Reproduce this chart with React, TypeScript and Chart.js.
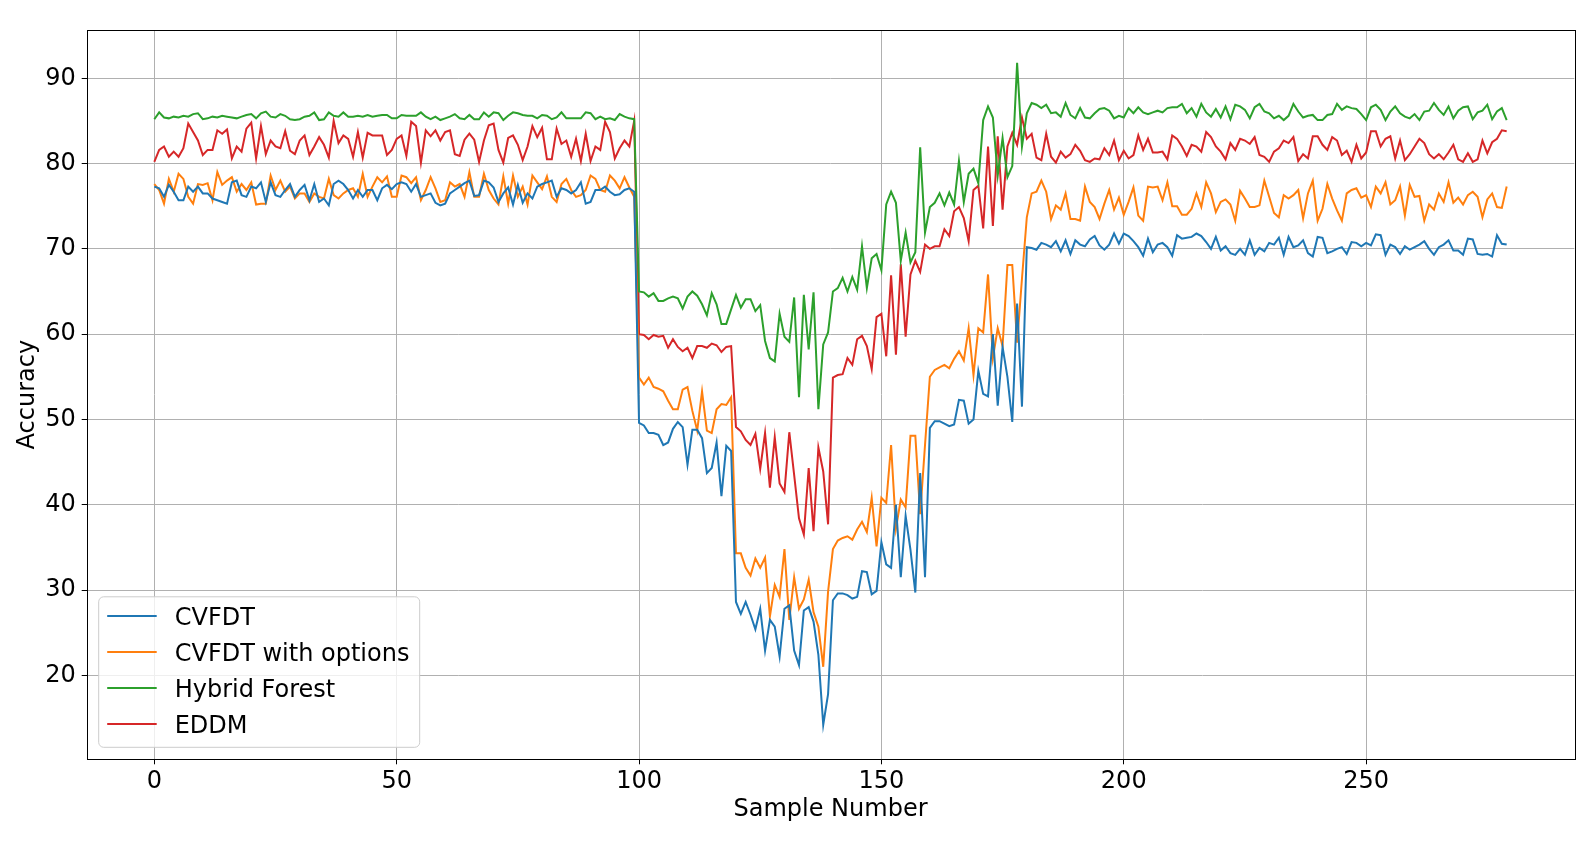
import { useRef, useEffect } from 'react';
import { Chart, registerables } from 'chart.js';

Chart.register(...registerables);

// Accuracy per sample for four stream classifiers.
const cvfdt = [
  77.3, 77.1, 76.1, 77.5, 76.7, 75.7, 75.7, 77.3, 76.7, 77.3,
  76.5, 76.5, 75.9, 75.7, 75.5, 75.3, 77.8, 78.0, 76.3, 76.1,
  77.3, 77.1, 77.8, 75.5, 77.8, 76.3, 76.1, 76.9, 77.6, 76.1,
  76.9, 77.5, 75.7, 77.6, 75.5, 75.9, 75.1, 77.6, 78.0, 77.6,
  76.9, 75.9, 76.9, 76.1, 76.9, 76.9, 75.7, 77.1, 77.5, 77.0,
  77.6, 77.8, 77.6, 76.7, 77.6, 76.1, 76.3, 76.5, 75.4, 75.1,
  75.3, 76.5, 76.9, 77.3, 77.7, 78.0, 76.2, 76.3, 78.0, 77.8,
  77.2, 75.5, 76.5, 77.2, 75.2, 77.5, 75.4, 76.5, 75.9, 77.3,
  77.6, 77.8, 78.0, 76.1, 77.1, 76.9, 76.5, 76.9, 77.8, 75.3,
  75.5, 76.9, 76.9, 77.3, 76.7, 76.3, 76.4, 76.9, 77.1, 76.7,
  49.6, 49.3, 48.4, 48.4, 48.2, 47.0, 47.3, 48.9, 49.7, 49.1,
  44.7, 48.8, 48.8, 47.8, 43.7, 44.3, 47.3, 41.0, 46.9, 46.3,
  28.6, 27.2, 28.6, 27.1, 25.4, 27.8, 22.9, 26.5, 25.7, 22.2,
  27.8, 28.2, 22.9, 21.2, 27.6, 28.0, 26.3, 22.4, 14.2, 17.8,
  28.8, 29.6, 29.6, 29.4, 29.0, 29.2, 32.2, 32.1, 29.5, 29.9,
  35.6, 33.0, 32.6, 40.0, 31.5, 38.7, 34.7, 29.7, 43.7, 31.5,
  49.0, 49.8, 49.8, 49.5, 49.2, 49.4, 52.3, 52.2, 49.5, 50.0,
  55.7, 53.0, 52.7, 60.0, 51.6, 58.5, 55.0, 49.7, 63.6, 51.5,
  70.2, 70.1, 69.9, 70.7, 70.5, 70.2, 70.9, 69.7, 71.0, 69.4,
  71.0, 70.5, 70.3, 71.1, 71.5, 70.4, 69.9, 70.5, 71.8, 70.6,
  71.8, 71.5, 70.9, 70.2, 69.2, 71.2, 69.6, 70.5, 70.7, 70.2,
  69.2, 71.6, 71.2, 71.3, 71.4, 71.8, 71.5, 70.8, 70.0, 71.4,
  69.8, 70.3, 69.5, 69.3, 70.0, 69.3, 71.0, 69.3, 70.1, 69.7,
  70.7, 70.5, 71.3, 69.3, 71.4, 70.2, 70.4, 71.0, 69.5, 69.1,
  71.4, 71.3, 69.5, 69.7, 70.0, 70.2, 69.4, 70.8, 70.7, 70.3,
  70.7, 70.4, 71.7, 71.6, 69.3, 70.5, 70.2, 69.4, 70.3, 69.9,
  70.2, 70.5, 70.9, 70.0, 69.3, 70.2, 70.5, 71.0, 69.8, 69.8,
  69.3, 71.2, 71.1, 69.4, 69.3, 69.4, 69.1, 71.6, 70.6, 70.5,
];

const cvfdtOptions = [
  77.6, 76.9, 75.3, 78.2, 76.7, 78.8, 78.2, 76.1, 75.3, 77.6,
  77.5, 77.7, 75.7, 79.0, 77.5, 78.0, 78.4, 76.7, 77.6, 76.9,
  77.8, 75.2, 75.3, 75.3, 78.6, 76.9, 78.0, 76.7, 77.3, 75.9,
  76.5, 76.5, 75.5, 76.5, 76.1, 75.9, 78.2, 76.3, 75.9, 76.5,
  76.9, 77.1, 76.1, 78.8, 76.1, 77.3, 78.4, 77.8, 78.5, 76.1,
  76.1, 78.6, 78.4, 77.7, 78.4, 75.7, 76.9, 78.4, 77.1, 75.5,
  75.7, 77.8, 77.3, 77.6, 76.1, 79.0, 76.1, 76.1, 78.8, 76.9,
  75.9, 75.2, 78.5, 75.3, 78.6, 76.1, 77.3, 75.2, 78.6, 77.8,
  77.0, 78.5, 76.1, 75.5, 77.6, 78.2, 76.9, 76.1, 76.3, 76.9,
  78.6, 78.2, 76.9, 76.7, 78.6, 78.0, 77.1, 78.4, 77.2, 76.1,
  54.9, 54.1, 54.9, 53.8, 53.6, 53.3, 52.2, 51.2, 51.2, 53.5,
  53.8, 51.0, 48.7, 53.3, 48.7, 48.4, 51.2, 51.8, 51.7, 52.6,
  34.3, 34.3, 32.6, 31.7, 33.7, 32.6, 33.8, 26.9, 30.6, 29.2,
  34.8, 26.5, 31.5, 27.8, 28.9, 31.2, 27.4, 25.7, 21.0, 29.8,
  34.8, 35.8, 36.1, 36.3, 35.9, 37.1, 38.0, 36.8, 40.8, 35.1,
  40.8, 40.2, 47.0, 37.2, 40.6, 39.7, 48.1, 48.1, 38.9, 47.0,
  55.0, 55.8, 56.1, 56.4, 56.0, 57.1, 58.0, 56.9, 60.7, 55.2,
  60.7, 60.2, 67.0, 57.2, 60.7, 58.6, 68.1, 68.1, 59.0, 66.5,
  73.7, 76.5, 76.7, 78.0, 76.7, 73.5, 75.1, 74.6, 76.5, 73.5,
  73.5, 73.3, 77.3, 75.5, 74.9, 73.5, 75.3, 76.9, 74.6, 76.0,
  74.0, 75.5, 77.2, 73.9, 73.3, 77.3, 77.2, 77.3, 75.7, 77.8,
  75.0, 75.0, 74.0, 74.0, 74.7, 76.5, 74.9, 77.8, 76.5, 74.3,
  75.5, 75.8, 75.2, 73.3, 76.8, 75.9, 74.9, 74.9, 75.1, 78.0,
  76.1, 74.2, 73.7, 76.3, 75.9, 76.3, 76.9, 73.6, 76.5, 78.0,
  73.3, 74.7, 77.6, 75.9, 74.5, 73.3, 76.5, 76.9, 77.1, 76.0,
  76.3, 74.9, 77.3, 76.5, 77.8, 75.2, 75.7, 77.3, 73.9, 77.5,
  76.1, 76.2, 73.3, 75.2, 74.6, 76.5, 75.5, 77.8, 75.4, 76.0,
  75.2, 76.3, 76.7, 76.1, 73.7, 75.8, 76.5, 74.9, 74.8, 77.3,
];

const hybridForest = [
  85.2, 86.0, 85.4, 85.3, 85.5, 85.4, 85.6, 85.5, 85.8, 85.9,
  85.2, 85.3, 85.5, 85.4, 85.6, 85.5, 85.4, 85.3, 85.5, 85.7,
  85.8, 85.3, 85.9, 86.1, 85.5, 85.4, 85.8, 85.6, 85.2, 85.1,
  85.2, 85.5, 85.6, 86.0, 85.1, 85.2, 86.0, 85.6, 85.5, 86.0,
  85.5, 85.5, 85.6, 85.5, 85.7, 85.5, 85.6, 85.7, 85.7, 85.3,
  85.3, 85.7, 85.6, 85.6, 85.6, 86.0, 85.5, 85.2, 85.5, 85.1,
  85.3, 85.5, 85.8, 85.3, 85.2, 85.7, 85.2, 85.2, 86.0, 85.5,
  86.0, 85.9, 85.1, 85.6, 86.0, 85.9, 85.7, 85.6, 85.6, 85.3,
  85.7, 85.6, 85.2, 85.4, 86.0, 85.3, 85.3, 85.3, 85.3, 86.0,
  85.9, 85.2, 85.5, 85.2, 85.3, 85.1, 85.8, 85.5, 85.3, 85.2,
  65.0, 64.9, 64.4, 64.8, 63.9, 63.9, 64.2, 64.4, 64.2, 63.0,
  64.4, 65.0, 64.5, 63.5, 62.2, 64.8, 63.5, 61.2, 61.2, 62.9,
  64.6, 63.1, 64.1, 64.1, 62.7, 63.4, 59.2, 57.2, 56.8, 62.4,
  59.7, 59.1, 64.3, 52.6, 64.6, 58.2, 64.9, 51.2, 58.8, 60.2,
  65.0, 65.4, 66.6, 65.0, 66.7, 65.2, 70.3, 65.4, 68.9, 69.4,
  67.5, 75.2, 76.7, 75.4, 68.6, 71.9, 68.4, 69.6, 81.9, 71.9,
  74.9, 75.4, 76.5, 75.1, 76.6, 75.2, 80.3, 75.5, 78.8, 79.4,
  77.7, 85.1, 86.7, 85.4, 78.6, 83.0, 78.4, 79.7, 91.8, 82.0,
  85.9, 87.1, 86.9, 86.5, 86.9, 85.9, 86.0, 85.5, 87.1, 85.7,
  85.3, 86.5, 85.4, 85.3, 85.9, 86.4, 86.5, 86.2, 85.3, 85.6,
  85.4, 86.5, 85.9, 86.6, 86.0, 85.8, 86.0, 86.2, 86.0, 86.5,
  86.6, 86.6, 87.0, 85.9, 86.5, 85.5, 87.0, 86.0, 85.5, 86.4,
  85.4, 86.7, 85.2, 86.9, 86.7, 86.3, 85.3, 86.6, 87.0, 86.1,
  85.9, 85.3, 85.6, 85.1, 85.6, 87.0, 86.1, 85.4, 85.6, 85.7,
  85.1, 85.1, 85.7, 85.8, 87.0, 86.3, 86.7, 86.5, 86.4, 85.8,
  85.1, 86.6, 86.9, 86.3, 85.1, 86.1, 86.7, 85.9, 85.5, 85.3,
  85.8, 85.1, 86.1, 86.2, 87.1, 86.3, 85.7, 86.7, 85.3, 86.2,
  86.6, 86.7, 85.2, 86.0, 86.2, 86.9, 85.2, 86.1, 86.5, 85.1,
];

const eddm = [
  80.2, 81.6, 82.0, 80.8, 81.4, 80.8, 81.8, 84.7, 83.7, 82.7,
  81.0, 81.6, 81.6, 83.9, 83.5, 84.0, 80.6, 82.0, 81.4, 84.1,
  84.8, 80.6, 84.4, 81.1, 82.7, 82.0, 81.8, 83.8, 81.5, 81.1,
  82.7, 83.3, 81.0, 82.0, 83.1, 82.2, 80.7, 85.0, 82.4, 83.3,
  82.9, 80.8, 83.7, 80.7, 83.6, 83.3, 83.3, 83.3, 81.0, 81.6,
  82.9, 83.3, 80.9, 84.9, 84.4, 80.1, 83.9, 83.2, 83.9, 82.7,
  83.7, 83.9, 81.1, 80.9, 82.8, 83.5, 82.8, 80.2, 82.7, 84.5,
  84.7, 81.6, 80.1, 83.0, 83.3, 82.2, 80.4, 82.0, 84.4, 83.1,
  84.2, 80.5, 80.5, 84.1, 82.3, 82.7, 80.8, 82.9, 80.3, 83.5,
  80.3, 82.0, 81.6, 84.9, 83.7, 80.6, 81.8, 82.7, 82.0, 85.0,
  60.0, 59.9, 59.4, 59.9, 59.7, 59.8, 58.4, 59.4, 58.5, 58.0,
  58.4, 57.2, 58.6, 58.6, 58.4, 58.9, 58.7, 57.9, 58.5, 58.6,
  49.1, 48.6, 47.6, 47.0, 48.3, 44.2, 48.4, 42.0, 47.9, 42.5,
  41.5, 48.5, 43.5, 38.4, 36.5, 44.3, 36.9, 46.7, 43.9, 37.7,
  54.9, 55.2, 55.3, 57.2, 56.4, 59.4, 59.8, 58.6, 55.9, 62.0,
  62.4, 57.4, 66.9, 57.6, 68.2, 59.7, 67.0, 68.6, 67.3, 70.5,
  70.0, 70.3, 70.3, 72.3, 71.5, 74.4, 74.9, 73.6, 70.9, 76.9,
  77.4, 72.4, 82.0, 72.7, 83.2, 74.6, 82.0, 83.6, 82.2, 85.4,
  82.9, 83.5, 80.7, 80.4, 83.5, 80.8, 80.1, 81.4, 80.7, 81.1,
  82.2, 81.5, 80.4, 80.2, 80.6, 80.5, 81.8, 81.0, 82.7, 80.4,
  81.5, 80.6, 81.0, 83.3, 81.6, 82.9, 81.3, 81.3, 81.4, 80.5,
  83.3, 82.9, 82.0, 80.9, 82.2, 82.0, 81.4, 83.7, 83.1, 82.0,
  81.4, 80.5, 82.4, 81.6, 82.9, 82.7, 82.3, 83.1, 81.0, 80.8,
  80.2, 81.4, 81.8, 82.7, 82.4, 83.1, 80.3, 81.1, 80.6, 83.2,
  83.2, 82.2, 81.6, 83.1, 82.7, 81.0, 81.5, 80.2, 82.2, 80.6,
  81.3, 83.8, 83.8, 82.0, 82.9, 83.2, 80.6, 82.7, 80.4, 81.1,
  82.0, 82.9, 82.4, 81.1, 80.6, 81.1, 80.5, 81.3, 82.2, 80.5,
  80.2, 81.2, 80.2, 80.5, 82.7, 81.2, 82.5, 82.9, 83.9, 83.8,
];

const sampleNumbers = cvfdt.map((_, i) => i);
const xTicks = [0, 50, 100, 150, 200, 250];
const yTicks = [20, 30, 40, 50, 60, 70, 80, 90];

const seriesNames = ['CVFDT', 'CVFDT with options', 'Hybrid Forest', 'EDDM'];
const seriesColors = ['#1f77b4', '#ff7f0e', '#2ca02c', '#d62728'];
const seriesValues = [cvfdt, cvfdtOptions, hybridForest, eddm];

const FONT = '"DejaVu Sans", sans-serif';

// black box round the plot area, like matplotlib spines
const framePlugin = {
  id: 'frame',
  afterDatasetsDraw(chart: Chart) {
    const { ctx, chartArea } = chart;
    ctx.save();
    ctx.strokeStyle = '#000';
    ctx.lineWidth = 1;
    ctx.strokeRect(
      Math.round(chartArea.left) + 0.5,
      Math.round(chartArea.top) + 0.5,
      Math.round(chartArea.right - chartArea.left),
      Math.round(chartArea.bottom - chartArea.top)
    );
    ctx.restore();
  },
};

// legend box in the lower left corner of the plot
const legendPlugin = {
  id: 'boxLegend',
  afterDraw(chart: Chart) {
    const { ctx, chartArea } = chart;
    const x = chartArea.left + 11.5;
    const y = chartArea.bottom - 163;
    const w = 321;
    const h = 150.5;
    ctx.save();
    ctx.beginPath();
    ctx.roundRect(x + 0.5, y + 0.5, w, h, 5);
    ctx.fillStyle = 'rgba(255,255,255,0.8)';
    ctx.fill();
    ctx.strokeStyle = '#cccccc';
    ctx.lineWidth = 1;
    ctx.stroke();
    ctx.font = `24px ${FONT}`;
    ctx.textBaseline = 'alphabetic';
    ctx.textAlign = 'left';
    seriesNames.forEach((name, k) => {
      const ly = y + 19.7 + 36 * k;
      ctx.beginPath();
      ctx.moveTo(x + 9, ly);
      ctx.lineTo(x + 58.5, ly);
      ctx.strokeStyle = seriesColors[k];
      ctx.lineWidth = 2;
      ctx.stroke();
      ctx.fillStyle = '#000';
      ctx.fillText(name, x + 76.5, ly + 8.8);
    });
    ctx.restore();
  },
};

function AccuracyChart() {
  const canvasRef = useRef<HTMLCanvasElement>(null);
  const chartRef = useRef<Chart | null>(null);

  useEffect(() => {
    if (!canvasRef.current) return;
    document.body.style.margin = '0';

    chartRef.current = new Chart(canvasRef.current, {
      type: 'line',
      data: {
        labels: sampleNumbers,
        datasets: seriesValues.map((values, k) => ({
          label: seriesNames[k],
          data: values,
          borderColor: seriesColors[k],
          backgroundColor: seriesColors[k],
          borderWidth: 2,
          pointRadius: 0,
          tension: 0,
          fill: false,
        })),
      },
      options: {
        responsive: false,
        animation: false,
        layout: { padding: { top: 30, right: 19.7, left: 0, bottom: 0 } },
        plugins: {
          legend: { display: false },
          tooltip: { enabled: false },
        },
        scales: {
          x: {
            type: 'linear',
            min: -13.95,
            max: 292.95,
            afterBuildTicks: (scale: any) => {
              scale.ticks = xTicks.map((value) => ({ value }));
            },
            afterFit: (scale: any) => {
              scale.height = 89.7;
            },
            grid: {
              color: '#b0b0b0',
              lineWidth: 1,
              tickColor: '#000',
              tickLength: 5,
            },
            border: { display: false },
            ticks: {
              color: '#000',
              font: { family: FONT, size: 24 },
              padding: 3,
              maxRotation: 0,
              autoSkip: false,
            },
            title: {
              display: true,
              text: 'Sample Number',
              color: '#000',
              font: { family: FONT, size: 24, lineHeight: 1.2 },
              padding: { top: 0, bottom: 24.5 },
            },
          },
          y: {
            type: 'linear',
            min: 10.15,
            max: 95.66,
            afterBuildTicks: (scale: any) => {
              scale.ticks = yTicks.map((value) => ({ value }));
            },
            afterFit: (scale: any) => {
              scale.width = 86.7;
            },
            grid: {
              color: '#b0b0b0',
              lineWidth: 1,
              tickColor: '#000',
              tickLength: 5,
            },
            border: { display: false },
            ticks: {
              color: '#000',
              font: { family: FONT, size: 24 },
              padding: 6,
              autoSkip: false,
            },
            title: {
              display: true,
              text: 'Accuracy',
              color: '#000',
              font: { family: FONT, size: 24, lineHeight: 1.2 },
              padding: { top: 13, bottom: 0 },
            },
          },
        },
      },
      plugins: [framePlugin, legendPlugin],
    });

    return () => {
      chartRef.current?.destroy();
    };
  }, []);

  return (
    <div style={{ position: 'relative', width: '1594px', height: '849px' }}>
      <canvas
        ref={canvasRef}
        width={1594}
        height={849}
        style={{ display: 'block' }}
        role="img"
        aria-label="Line chart of accuracy against sample number for CVFDT, CVFDT with options, Hybrid Forest and EDDM."
      />
    </div>
  );
}

export default function App() {
  return <AccuracyChart />;
}
